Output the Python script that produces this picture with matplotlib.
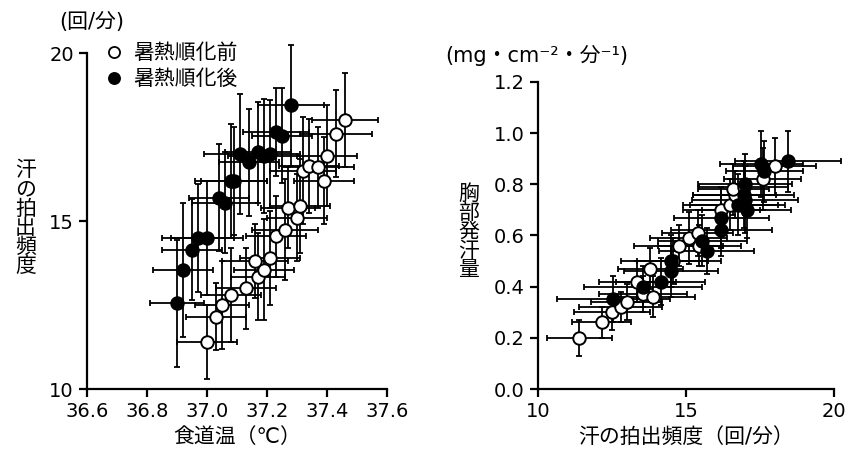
import matplotlib
matplotlib.use("Agg")
import matplotlib.pyplot as plt
from matplotlib.lines import Line2D

plt.rcParams['font.family'] = ['DejaVu Sans', 'Noto Sans CJK JP']

# 暑熱順化前 (open circles)
pre_temp = [37.00, 37.03, 37.05, 37.08, 37.13, 37.17, 37.19, 37.16, 37.21, 37.23, 37.26,
            37.30, 37.27, 37.31, 37.39, 37.32, 37.34, 37.37, 37.40, 37.43, 37.46]
pre_freq = [11.4, 12.15, 12.5, 12.8, 13.0, 13.35, 13.55, 13.8, 13.9, 14.55, 14.75,
            15.1, 15.4, 15.45, 16.2, 16.5, 16.65, 16.6, 16.95, 17.6, 18.0]
pre_rate = [0.20, 0.26, 0.30, 0.32, 0.34, 0.42, 0.37, 0.47, 0.36, 0.50, 0.56,
            0.59, 0.61, 0.56, 0.70, 0.72, 0.76, 0.78, 0.79, 0.82, 0.87]
pre_temp_err = [0.10, 0.10, 0.09, 0.10, 0.10, 0.09, 0.10, 0.11, 0.10, 0.10, 0.11,
                0.10, 0.09, 0.10, 0.10, 0.11, 0.10, 0.12, 0.10, 0.12, 0.11]
pre_freq_err = [1.1, 1.0, 1.3, 1.4, 1.2, 1.3, 1.5, 1.1, 1.4, 1.2, 1.5,
                1.3, 1.2, 1.4, 1.3, 1.6, 1.4, 1.2, 1.5, 1.3, 1.4]
pre_rate_err = [0.07, 0.06, 0.07, 0.06, 0.07, 0.08, 0.07, 0.08, 0.08, 0.09, 0.08,
                0.10, 0.09, 0.08, 0.09, 0.10, 0.09, 0.10, 0.10, 0.12, 0.11]

# 暑熱順化後 (filled circles)
post_temp = [36.90, 36.92, 36.95, 36.97, 37.00, 37.04, 37.06, 37.08, 37.09,
             37.11, 37.14, 37.17, 37.19, 37.21, 37.23, 37.25, 37.28]
post_freq = [12.55, 13.55, 14.15, 14.5, 14.5, 15.7, 15.55, 16.2, 16.2,
             17.0, 16.75, 17.05, 16.95, 17.0, 17.65, 17.55, 18.45]
post_rate = [0.35, 0.40, 0.42, 0.46, 0.50, 0.54, 0.58, 0.62, 0.67,
             0.74, 0.72, 0.70, 0.76, 0.80, 0.85, 0.88, 0.89]
post_temp_err = [0.09, 0.10, 0.10, 0.12, 0.12, 0.10, 0.11, 0.12, 0.11,
                 0.12, 0.10, 0.11, 0.12, 0.10, 0.11, 0.10, 0.11]
post_freq_err = [1.9, 2.0, 1.5, 1.6, 1.7, 1.6, 1.5, 1.7, 1.6,
                 1.8, 1.6, 1.5, 1.7, 1.6, 1.3, 1.4, 1.8]
post_rate_err = [0.09, 0.08, 0.09, 0.10, 0.10, 0.09, 0.10, 0.10, 0.12,
                 0.13, 0.12, 0.11, 0.13, 0.12, 0.12, 0.13, 0.12]

fig = plt.figure(figsize=(8.5, 4.55), dpi=100)
ax1 = fig.add_axes([0.1024, 0.145, 0.353, 0.738])
ax2 = fig.add_axes([0.633, 0.145, 0.348, 0.675])

eb = dict(fmt='none', ecolor='black', elinewidth=1.3, capsize=2.5, capthick=1.3, clip_on=False)
mk = dict(marker='o', ms=9, mew=1.4, mec='black', ls='none', clip_on=False)


def draw(ax, x1, y1, xe1, ye1, x2, y2, xe2, ye2):
    ax.errorbar(x1, y1, xerr=xe1, yerr=ye1, **eb)
    ax.errorbar(x2, y2, xerr=xe2, yerr=ye2, **eb)
    ax.plot(x1, y1, mfc='white', zorder=3, **mk)
    ax.plot(x2, y2, mfc='black', zorder=4, **mk)


draw(ax1, pre_temp, pre_freq, pre_temp_err, pre_freq_err,
     post_temp, post_freq, post_temp_err, post_freq_err)
draw(ax2, pre_freq, pre_rate, pre_freq_err, pre_rate_err,
     post_freq, post_rate, post_freq_err, post_rate_err)

for ax in (ax1, ax2):
    for s in ('top', 'right'):
        ax.spines[s].set_visible(False)
    for s in ('left', 'bottom'):
        ax.spines[s].set_linewidth(1.6)
    ax.tick_params(direction='out', length=5.5, width=1.6, labelsize=14, pad=4)

ax1.set_xlim(36.6, 37.6)
ax1.set_ylim(10, 20)
ax1.set_xticks([36.6, 36.8, 37.0, 37.2, 37.4, 37.6])
ax1.set_xticklabels(['36.6', '36.8', '37.0', '37.2', '37.4', '37.6'])
ax1.set_yticks([10, 15, 20])
ax1.set_xlabel('食道温（℃）', fontsize=15, labelpad=4)

ax2.set_xlim(10, 20)
ax2.set_ylim(0, 1.2)
ax2.set_xticks([10, 15, 20])
ax2.set_yticks([0.0, 0.2, 0.4, 0.6, 0.8, 1.0, 1.2])
ax2.set_yticklabels(['0.0', '0.2', '0.4', '0.6', '0.8', '1.0', '1.2'])
ax2.set_xlabel('汗の拍出頻度（回/分）', fontsize=15, labelpad=4)

# vertical stacked y labels and units
fig.text(0.03, 0.52, '\n'.join('汗の拍出頻度'), fontsize=15, ha='center', va='center',
         linespacing=0.95)
fig.text(0.551, 0.49, '\n'.join('胸部発汗量'), fontsize=15, ha='center', va='center',
         linespacing=0.95)
fig.text(0.108, 0.952, '(回/分)', fontsize=15, ha='center', va='center')
fig.text(0.631, 0.879, '(mg・cm⁻²・分⁻¹)', fontsize=15, ha='center', va='center')

handles = [Line2D([], [], marker='o', ls='none', ms=8, mew=1.3, mec='black', mfc='white'),
           Line2D([], [], marker='o', ls='none', ms=8, mew=1.3, mec='black', mfc='black')]
ax1.legend(handles, ['暑熱順化前', '暑熱順化後'], loc='upper left', bbox_to_anchor=(0.035, 1.055),
           frameon=False, fontsize=15, handlelength=0.8, handletextpad=0.5,
           labelspacing=0.3, borderaxespad=0)

fig.savefig('out.png', dpi=100)
